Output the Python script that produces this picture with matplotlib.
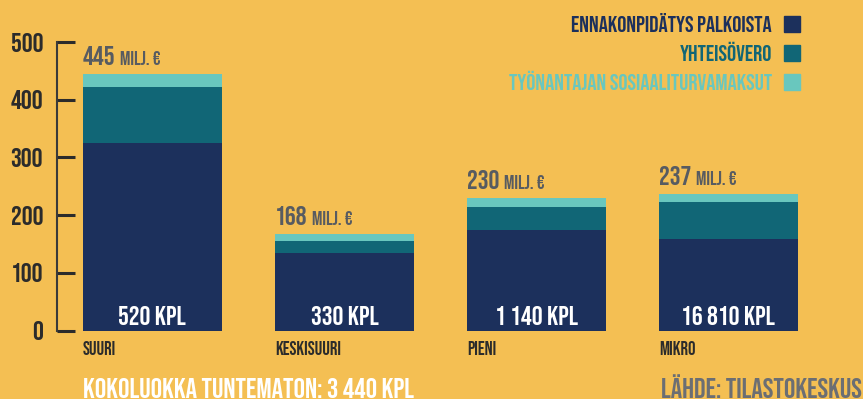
import matplotlib
matplotlib.use("Agg")
import matplotlib.pyplot as plt
import numpy as np

# Tax revenue by company size class (million euros)
categories = ["SUURI", "KESKISUURI", "PIENI", "MIKRO"]
ennakonpidatys = [325, 134, 174, 159]
yhteisovero = [97, 21, 40, 64]
sosiaaliturva = [23, 13, 16, 14]
totals = [445, 168, 230, 237]
company_counts = ["520 KPL", "330 KPL", "1 140 KPL", "16 810 KPL"]
series_names = ["ENNAKONPIDÄTYS PALKOISTA", "YHTEISÖVERO",
                "TYÖNANTAJAN SOSIAALITURVAMAKSUT"]
yticks = [0, 100, 200, 300, 400, 500]

BG = "#F4BF53"
NAVY = "#1C305C"
TEAL = "#116676"
LIGHT = "#69C7BE"
DARK = "#2B2B2B"
GREY = "#575B61"

plt.rcParams["font.family"] = ["Bebas Neue", "DejaVu Sans"]

W, H = 863, 399
fig = plt.figure(figsize=(W / 100, H / 100), dpi=100, facecolor=BG)
ax = fig.add_axes([57 / W, (H - 330.5) / H, 767.5 / W, 288.5 / H])
ax.set_facecolor(BG)

x = np.arange(len(categories))
bw = 0.724
colors = [NAVY, TEAL, LIGHT]
bottom = np.zeros(len(categories))
for vals, c in zip([ennakonpidatys, yhteisovero, sosiaaliturva], colors):
    ax.bar(x, vals, bw, bottom=bottom, color=c, linewidth=0, zorder=2)
    bottom += np.array(vals)

ax.set_xlim(-0.497, 3.5)
ax.set_ylim(0, 500)
ax.set_yticks(yticks)
ax.set_yticklabels([str(v) for v in yticks], fontsize=19.5, color=DARK)
ax.tick_params(axis="y", direction="in", length=13, width=2.2, color=DARK, pad=10)
ax.set_xticks([])
for s in ["top", "right", "bottom"]:
    ax.spines[s].set_visible(False)
ax.spines["left"].set_linewidth(1.5)
ax.spines["left"].set_color("#3a3a3a")

fig.canvas.draw()
renderer = fig.canvas.get_renderer()
inv = ax.transData.inverted()

for i, (tot, cnt, cat) in enumerate(zip(totals, company_counts, categories)):
    left = x[i] - bw / 2
    num = ax.annotate(str(tot), xy=(left, tot), xytext=(0, 6.5),
                      textcoords="offset points", ha="left", va="baseline",
                      fontsize=19.5, color=GREY)
    ext = num.get_window_extent(renderer)
    x_unit = inv.transform((ext.x1 + 4.5, 0))[0]
    ax.annotate("MILJ. €", xy=(x_unit, tot), xytext=(0, 6.5),
                textcoords="offset points", ha="left", va="baseline",
                fontsize=14, color=GREY)
    ax.annotate(cnt, xy=(x[i], 0), xytext=(0, 4),
                textcoords="offset points", ha="center", va="baseline",
                fontsize=19.5, color="white", zorder=3)
    ax.annotate(cat, xy=(left, 0), xytext=(0, -17.5),
                textcoords="offset points", ha="left", va="baseline",
                fontsize=13.5, color=DARK, annotation_clip=False)

# legend: right-aligned labels with square swatches
rows_y = [31.7, 60.7, 90]
for name, c, yb in zip(series_names, colors, rows_y):
    fig.text(772 / W, 1 - yb / H, name, ha="right", va="baseline",
             fontsize=16.5, color=c)
    fig.patches.append(plt.Rectangle((784 / W, 1 - yb / H), 16 / W, 16 / H,
                                     transform=fig.transFigure, color=c,
                                     figure=fig))

fig.text(83 / W, 1 - 397.5 / H, "KOKOLUOKKA TUNTEMATON: 3 440 KPL",
         ha="left", va="baseline", fontsize=20.5, color="white")
fig.text(862 / W, 1 - 397.5 / H, "LÄHDE: TILASTOKESKUS",
         ha="right", va="baseline", fontsize=20.5, color="#6B6E73")

fig.savefig("out.png", dpi=100, facecolor=BG)
